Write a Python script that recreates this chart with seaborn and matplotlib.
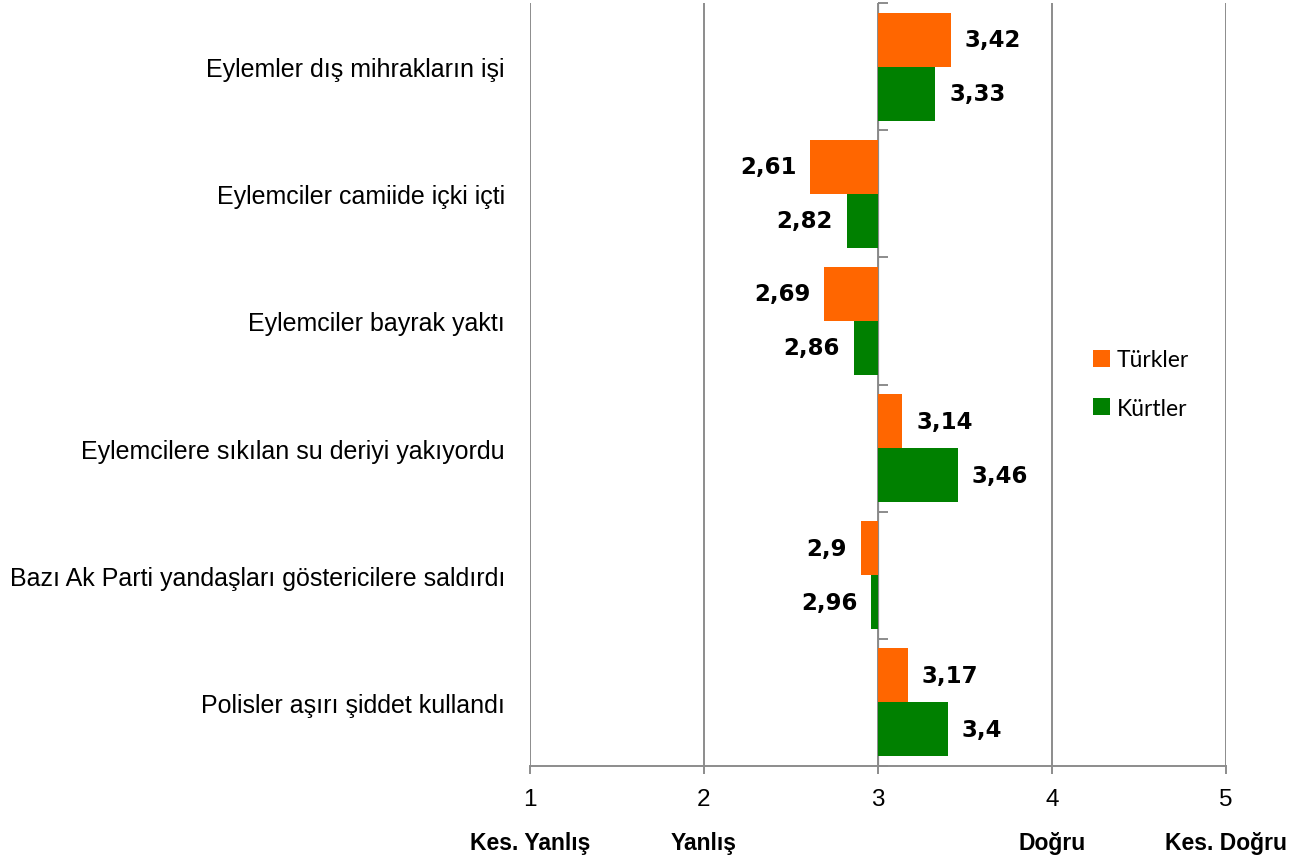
import matplotlib
matplotlib.use("Agg")
import matplotlib.pyplot as plt
from matplotlib.patches import Patch
import pandas as pd
import seaborn as sns

# Survey statements (top to bottom) and mean agreement scores on a 1-5 scale
statements = [
    "Eylemler dış mihrakların işi",
    "Eylemciler camiide içki içti",
    "Eylemciler bayrak yaktı",
    "Eylemcilere sıkılan su deriyi yakıyordu",
    "Bazı Ak Parti yandaşları göstericilere saldırdı",
    "Polisler aşırı şiddet kullandı",
]
groups = ["Türkler", "Kürtler"]
turkler = [3.42, 2.61, 2.69, 3.14, 2.9, 3.17]
kurtler = [3.33, 2.82, 2.86, 3.46, 2.96, 3.4]

scale_ticks = [1, 2, 3, 4, 5]
scale_names = {1: "Kes. Yanlış", 2: "Yanlış", 4: "Doğru", 5: "Kes. Doğru"}
midpoint = 3

colors = {"Türkler": "#FF6600", "Kürtler": "#008000"}
grid_gray = "#8C8C8C"

sns.set_style("white")
plt.rcParams["font.family"] = ["Liberation Sans", "DejaVu Sans"]
plt.rcParams["text.color"] = "black"
plt.rcParams["xtick.color"] = "black"
plt.rcParams["ytick.color"] = "black"

df = pd.DataFrame({
    "statement": statements * 2,
    "group": [groups[0]] * len(statements) + [groups[1]] * len(statements),
    "score": turkler + kurtler,
})
# Bars diverge from the scale midpoint: length is the distance from it
df["offset"] = df["score"] - midpoint

fig = plt.figure(figsize=(13.01, 8.62), dpi=100)
ax = fig.add_axes([530 / 1301, 1 - 767 / 862, 696 / 1301, 763 / 862])

sns.barplot(
    data=df, y="statement", x="offset", hue="group",
    order=statements, hue_order=groups, palette=colors, saturation=1,
    orient="y", width=0.85, errorbar=None, left=midpoint,
    edgecolor="none", linewidth=0, ax=ax, legend=False,
)

ax.set_xlim(1, 5)
ax.set_xlabel("")
ax.set_ylabel("")

# Vertical grid at each scale point
ax.set_xticks(scale_ticks)
ax.set_xticklabels([str(t) for t in scale_ticks], fontsize=17.5)
ax.grid(axis="x", color=grid_gray, linewidth=1.4)
ax.grid(axis="y", visible=False)
ax.set_axisbelow(True)
for side in ["top", "right", "left"]:
    ax.spines[side].set_visible(False)
ax.spines["bottom"].set_color(grid_gray)
ax.spines["bottom"].set_linewidth(1.4)
ax.tick_params(axis="x", direction="out", length=6, width=1.4, color=grid_gray,
               pad=10, bottom=True, labelcolor="black")

# Statement labels at the left edge of the plot
ax.tick_params(axis="y", length=0, pad=18, labelsize=18, labelcolor="black")

# Category axis drawn through the midpoint with ticks between groups
mid_axis = ax.secondary_yaxis(0.5)
mid_axis.set_yticks([i - 0.5 for i in range(len(statements) + 1)])
mid_axis.set_yticklabels([])
mid_axis.tick_params(axis="y", direction="out", length=7, width=1.4, color=grid_gray)
mid_axis.spines["left"].set_color(grid_gray)
mid_axis.spines["left"].set_linewidth(1.4)

# Verbal anchors of the scale under the numbers
anchor_axis = ax.secondary_xaxis("bottom")
anchor_keys = list(scale_names.keys())
anchor_axis.set_xticks(anchor_keys)
anchor_axis.set_xticklabels([scale_names[k] for k in anchor_keys],
                            fontsize=16.5, fontweight="bold", color="black")
anchor_axis.tick_params(axis="x", length=0, pad=47)
anchor_axis.spines["bottom"].set_visible(False)

# Value labels at the end of each bar
for container, vals in zip(ax.containers, [turkler, kurtler]):
    labels = [f"{v:g}".replace(".", ",") for v in vals]
    ax.bar_label(container, labels=labels, padding=10, fontsize=16.5,
                 fontweight="bold", family="DejaVu Sans", color="black")

handles = [Patch(facecolor=colors[g], edgecolor="none") for g in groups]
leg = ax.legend(
    handles, groups, loc="center left",
    bbox_to_anchor=(1093 / 1301, 1 - 385 / 862), bbox_transform=fig.transFigure,
    frameon=False, prop={"family": "Lato", "size": 16.5},
    handlelength=0.75, handleheight=0.75, handletextpad=0.3,
    labelspacing=1.2, borderpad=0, borderaxespad=0,
)
for t in leg.get_texts():
    t.set_color("black")

fig.savefig("out.png", dpi=100)
